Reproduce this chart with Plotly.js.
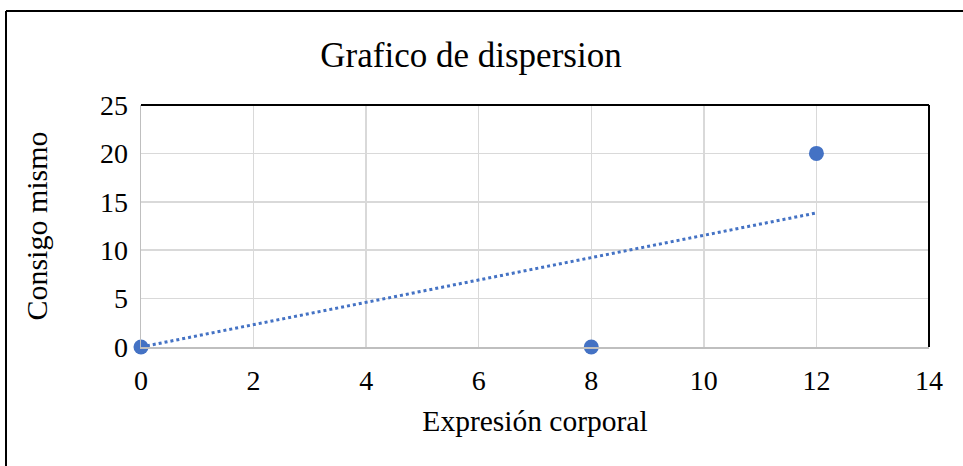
<!DOCTYPE html>
<html>
<head>
<meta charset="utf-8">
<script src="https://cdn.plot.ly/plotly-3.0.1.min.js"></script>
<style>html,body{margin:0;padding:0;background:#fff;}#chart{width:963px;height:466px;}</style>
</head>
<body>
<div id="chart"></div>
<script>
const xValues = [0, 8, 12];
const yValues = [0, 0, 20];
const trendX = [0, 12];
const trendY = [0, 13.85];
const xTicks = [0, 2, 4, 6, 8, 10, 12, 14];
const yTicks = [0, 5, 10, 15, 20, 25];

const font = "Liberation Serif, Times New Roman, serif";
const L = 141, R = 929, T = 105, B = 347;
const pw = R - L, ph = B - T;
function px(x){return (x - L)/pw;}
function py(y){return (B - y)/ph;}

const traces = [
  {x: trendX, y: trendY, mode: 'lines', type: 'scatter',
   line: {color: '#4472C4', width: 3, dash: 'dot'}, hoverinfo: 'skip', showlegend: false},
  {x: xValues, y: yValues, mode: 'markers', type: 'scatter',
   marker: {color: '#4472C4', size: 15}, cliponaxis: false, showlegend: false}
];

const layout = {
  width: 963, height: 466,
  margin: {l: L, r: 963 - R, t: T, b: 466 - B},
  paper_bgcolor: '#ffffff', plot_bgcolor: '#ffffff',
  font: {family: font, color: '#000', size: 28},
  title: {text: 'Grafico de dispersion', font: {family: font, size: 35, color: '#000'},
          x: 471/963, xanchor: 'center', xref: 'container', y: 1 - 55/466, yanchor: 'middle', yref: 'container'},
  xaxis: {range: [0, 14], tickvals: xTicks, ticktext: xTicks.map(String),
          showgrid: true, gridcolor: '#d9d9d9', gridwidth: 1.5,
          showline: true, linecolor: '#bfbfbf', linewidth: 1.5, zeroline: false,
          ticks: '', ticklen: 0, tickfont: {family: font, size: 28}, ticklabelstandoff: 8,
          title: {text: 'Expresión corporal', font: {family: font, size: 29.5}, standoff: 15}},
  yaxis: {range: [0, 25], tickvals: yTicks, ticktext: yTicks.map(String),
          showgrid: true, gridcolor: '#d9d9d9', gridwidth: 1.5,
          showline: true, linecolor: '#bfbfbf', linewidth: 1.5, zeroline: false,
          ticks: '', ticklen: 0, tickfont: {family: font, size: 28}, ticklabelstandoff: 6,
          title: {text: 'Consigo mismo', font: {family: font, size: 30}, standoff: 43}},
  shapes: [
    {type: 'line', xref: 'paper', yref: 'paper', x0: 0, x1: 1, y0: 1, y1: 1, line: {color: '#000', width: 2}},
    {type: 'line', xref: 'paper', yref: 'paper', x0: 1, x1: 1, y0: 0, y1: 1, line: {color: '#000', width: 2}},
    {type: 'line', xref: 'paper', yref: 'paper', x0: px(6), x1: px(975), y0: py(11), y1: py(11), line: {color: '#000', width: 2}},
    {type: 'line', xref: 'paper', yref: 'paper', x0: px(6), x1: px(6), y0: py(11), y1: py(480), line: {color: '#000', width: 2}}
  ]
};

Plotly.newPlot('chart', traces, layout, {displayModeBar: false, staticPlot: true});
</script>
</body>
</html>
